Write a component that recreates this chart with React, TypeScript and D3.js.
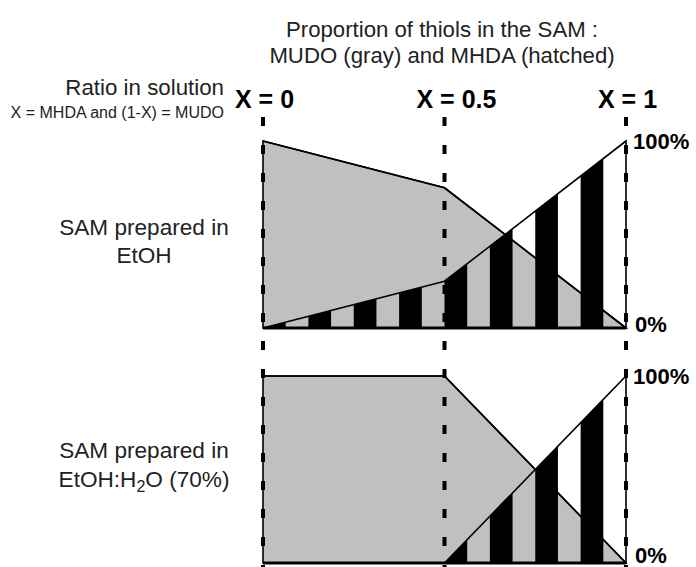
import React from "react";
import * as d3 from "d3";

// ---- data ----
const xRatios = [0, 0.5, 1];
const xLabels = ["X = 0", "X = 0.5", "X = 1"];
const mudoEtOH = [100, 75, 0];
const mhdaEtOH = [0, 25, 100];
const mudoMix = [100, 100, 0];
const mhdaMix = [0, 0, 100];
const stripeCount = 16;
const yTickLabels = ["0%", "100%"];
const titleLines = ["Proportion of thiols in the SAM :", "MUDO (gray) and MHDA (hatched)"];

const W = 696;
const H = 567;
const FONT = "'Liberation Sans', Arial, Helvetica, sans-serif";

const x = d3.scaleLinear().domain([0, 1]).range([263, 626]);

type PanelProps = { id: string; mudo: number[]; mhda: number[]; y0: number; y1: number; zeroDy: number };

function Panel({ id, mudo, mhda, y0, y1, zeroDy }: PanelProps) {
  const y = d3.scaleLinear().domain([0, 100]).range([y0, y1]);
  const area = d3
    .area<number>()
    .x((_, i) => x(xRatios[i]))
    .y0(y(0))
    .y1((d) => y(d));
  const line = d3
    .line<number>()
    .x((_, i) => x(xRatios[i]))
    .y((d) => y(d));
  const mudoPoly = area(mudo) as string;
  const mhdaPoly = area(mhda) as string;
  const bands = d3.range(stripeCount);
  const bw = (x(1) - x(0)) / stripeCount;
  return (
    <g>
      <defs>
        <clipPath id={`clip-${id}`}>
          <path d={mhdaPoly} />
        </clipPath>
      </defs>
      <path d={mudoPoly} fill="#c0c0c0" stroke="#000" strokeWidth={1.6} />
      <g clipPath={`url(#clip-${id})`}>
        {bands
          .filter((b) => b % 2 === 0)
          .map((b) => (
            <rect key={b} x={x(0) + b * bw} y={y1 - 2} width={bw} height={y0 - y1 + 4} fill="#000" />
          ))}
      </g>
      <path d={line(mudo) as string} fill="none" stroke="#000" strokeWidth={1.6} />
      <path d={mhdaPoly} fill="none" stroke="#000" strokeWidth={1.6} />
      <line x1={x(0)} x2={x(1)} y1={y0} y2={y0} stroke="#000" strokeWidth={3} />
      <text x={x(1) + 7} y={y(100) + 8} fontFamily={FONT} fontWeight="bold" fontSize={22}>
        {yTickLabels[1]}
      </text>
      <text x={x(1) + 9} y={y(0) + zeroDy} fontFamily={FONT} fontWeight="bold" fontSize={22}>
        {yTickLabels[0]}
      </text>
    </g>
  );
}

export default function App() {
  return (
    <svg
      width={W}
      height={H}
      viewBox={`0 0 ${W} ${H}`}
      style={{ position: "absolute", left: 0, top: 0, background: "#fff" }}
    >
      <rect width={W} height={H} fill="#fff" />
      <text x={442} y={37} textAnchor="middle" fontFamily={FONT} fontSize={22.2} fill="#222">
        {titleLines[0]}
      </text>
      <text x={442} y={63} textAnchor="middle" fontFamily={FONT} fontSize={22.2} fill="#222">
        {titleLines[1]}
      </text>
      <text x={224} y={95} textAnchor="end" fontFamily={FONT} fontSize={22.3} fill="#222">
        Ratio in solution
      </text>
      <text x={224} y={118} textAnchor="end" fontFamily={FONT} fontSize={16} fill="#222">
        X = MHDA and (1-X) = MUDO
      </text>
      {xRatios.map((r, i) => (
        <text key={i} x={x(r) - 28} y={108} fontFamily={FONT} fontWeight="bold" fontSize={25}>
          {xLabels[i]}
        </text>
      ))}
      <text x={144} y={235} textAnchor="middle" fontFamily={FONT} fontSize={22.6} fill="#222">
        SAM prepared in
      </text>
      <text x={144} y={263} textAnchor="middle" fontFamily={FONT} fontSize={22.6} fill="#222">
        EtOH
      </text>
      <text x={144} y={458} textAnchor="middle" fontFamily={FONT} fontSize={22.6} fill="#222">
        SAM prepared in
      </text>
      <text x={144} y={487} textAnchor="middle" fontFamily={FONT} fontSize={22.6} fill="#222">
        EtOH:H
        <tspan fontSize={16} dy={5}>2</tspan>
        <tspan dy={-5}>O (70%)</tspan>
      </text>
      <Panel id="etoh" mudo={mudoEtOH} mhda={mhdaEtOH} y0={328} y1={141} zeroDy={4} />
      <Panel id="mix" mudo={mudoMix} mhda={mhdaMix} y0={563} y1={376} zeroDy={0} />
      {xRatios.map((r, i) => (
        <line
          key={i}
          x1={x(r)}
          x2={x(r)}
          y1={117}
          y2={H}
          stroke="#000"
          strokeWidth={4}
          strokeDasharray="9,19"
        />
      ))}
    </svg>
  );
}
